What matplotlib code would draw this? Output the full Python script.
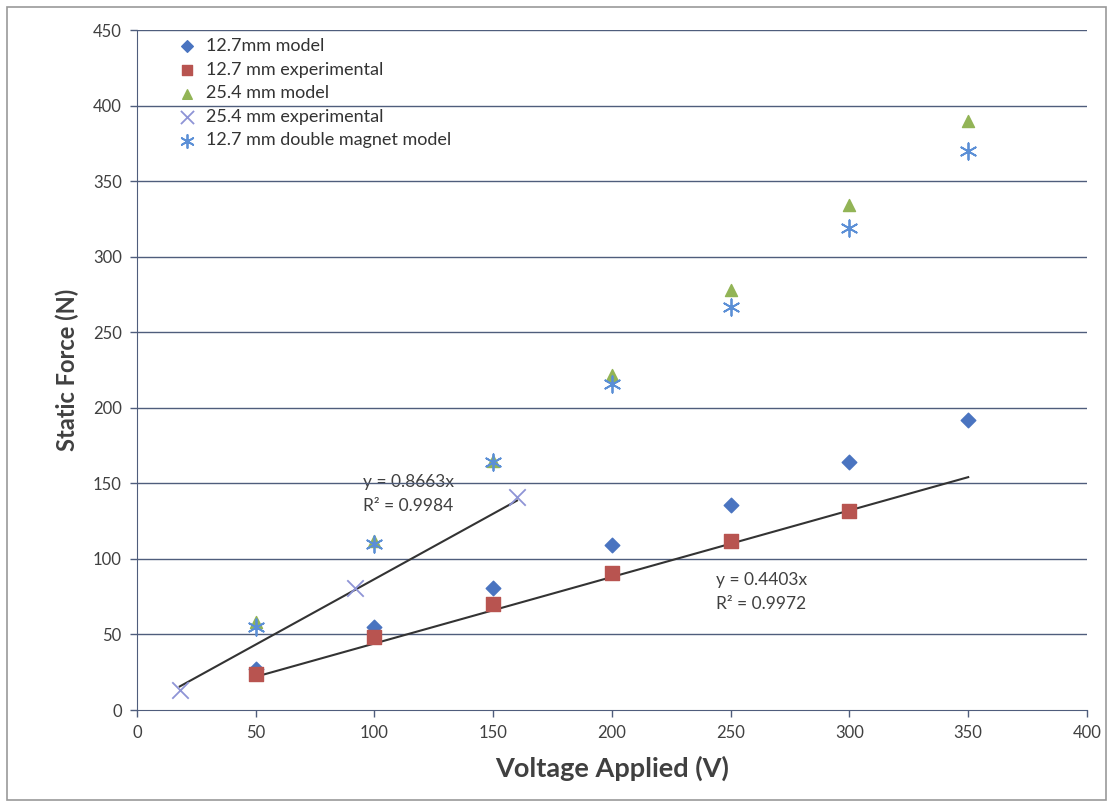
import matplotlib
matplotlib.use("Agg")
import matplotlib.pyplot as plt
from matplotlib.patches import Rectangle
import numpy as np

plt.rcParams['font.family'] = ['Lato', 'DejaVu Sans']

voltage = [50, 100, 150, 200, 250, 300, 350]
model_127 = [27, 55, 81, 109, 136, 164, 192]
exp_127_v = [50, 100, 150, 200, 250, 300]
exp_127 = [24, 48, 70, 91, 112, 132]
model_254 = [58, 112, 165, 222, 278, 334, 390]
exp_254_v = [18, 92, 160]
exp_254 = [13, 81, 141]
double_127 = [55, 110, 164, 216, 267, 319, 370]

slope_127 = 0.4403
r2_127 = 0.9972
slope_254 = 0.8663
r2_254 = 0.9984

x_ticks = [0, 50, 100, 150, 200, 250, 300, 350, 400]
y_ticks = [0, 50, 100, 150, 200, 250, 300, 350, 400, 450]

fig = plt.figure(figsize=(11.13, 8.05), dpi=100)
ax = fig.add_axes([0.1231, 0.118, 0.8535, 0.8447])

grid_color = '#4f5d7c'
for yv in y_ticks[1:]:
    ax.axhline(yv, color=grid_color, lw=1.0, zorder=1)

ax.scatter(voltage, model_127, marker='D', s=55, color='#4a74c0', label='12.7mm model', zorder=3)
ax.scatter(exp_127_v, exp_127, marker='s', s=95, color='#b85450', label='12.7 mm experimental', zorder=3)
ax.scatter(voltage, model_254, marker='^', s=75, color='#92b456', label='25.4 mm model', zorder=3)
ax.scatter(exp_254_v, exp_254, marker='x', s=140, color='#8e94d6', linewidths=1.3,
           label='25.4 mm experimental', zorder=3)
ax.scatter(voltage, double_127, marker=(6, 2, 0), s=140, color='#5b8fd6', linewidths=1.3,
           label='12.7 mm double magnet model', zorder=4)

# linear fits through the origin
xs1 = np.array([exp_127_v[0], voltage[-1]])
ax.plot(xs1, slope_127 * xs1, color='#333333', lw=1.5, zorder=2)
xs2 = np.array([exp_254_v[0], exp_254_v[-1]])
ax.plot(xs2, slope_254 * xs2, color='#333333', lw=1.5, zorder=2)

ax.text(95, 151, f'y = {slope_254}x', fontsize=12.5, color='#404040', va='center', zorder=0)
ax.text(95, 135, f'R² = {r2_254}', fontsize=12.5, color='#404040', va='center', zorder=0)
ax.text(244, 86, f'y = {slope_127}x', fontsize=12.5, color='#404040', va='center')
ax.text(244, 70, f'R² = {r2_127}', fontsize=12.5, color='#404040', va='center')

ax.set_xlim(0, 400)
ax.set_ylim(0, 450)
ax.set_xticks(x_ticks)
ax.set_yticks(y_ticks)
ax.tick_params(axis='both', labelsize=12, length=5, width=1, direction='out', pad=6,
               colors=grid_color, labelcolor='#404040')

for side in ['top', 'right']:
    ax.spines[side].set_visible(False)
ax.spines['left'].set_color(grid_color)
ax.spines['bottom'].set_color(grid_color)

ax.set_xlabel('Voltage Applied (V)', fontsize=19.5, fontweight='bold', color='#404040', labelpad=10)
ax.set_ylabel('Static Force (N)', fontsize=17, fontweight='bold', color='#404040', labelpad=10)

leg = ax.legend(loc='upper left', bbox_to_anchor=(0.022, 1.012), frameon=False, fontsize=13,
                handlelength=1.4, handletextpad=0.35, labelspacing=0.42, scatterpoints=1,
                markerscale=0.8)
for t in leg.get_texts():
    t.set_color('#333333')

fig.patches.append(Rectangle((0.006, 0.006), 0.988, 0.985, transform=fig.transFigure,
                             fill=False, edgecolor='#999999', lw=1.2))

fig.savefig('out.png', dpi=100)
